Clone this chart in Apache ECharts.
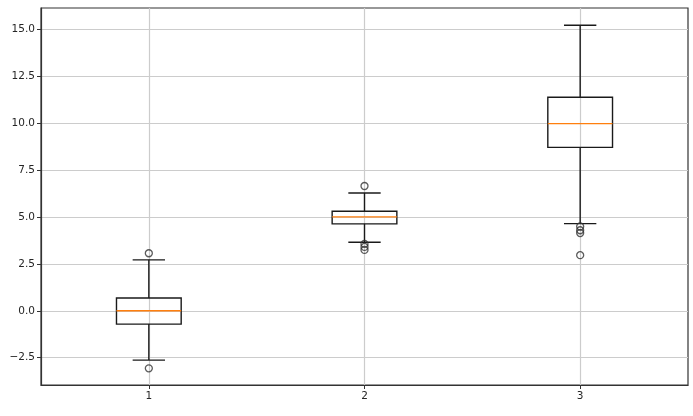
<!DOCTYPE html>
<html>
<head>
<meta charset="utf-8">
<script src="https://cdn.jsdelivr.net/npm/echarts@6/dist/echarts.min.js"></script>
<style>
  html, body { margin: 0; padding: 0; background: #fff; }
  #chart { width: 693px; height: 416px; }
</style>
</head>
<body>
<div id="chart"></div>
<script>
// box statistics per position
const positions = [1, 2, 3]
const whiskerLow = [-2.63, 3.66, 4.65]
const q1 = [-0.71, 4.64, 8.72]
const median = [0.0, 5.01, 9.99]
const q3 = [0.68, 5.31, 11.40]
const whiskerHigh = [2.72, 6.29, 15.24]
const fliers = [
  [3.07, -3.07],
  [6.66, 3.57, 3.41, 3.25],
  [4.50, 4.30, 4.15, 2.97]
]
const xTicks = [1, 2, 3]
const yTicks = [-2.5, 0, 2.5, 5, 7.5, 10, 12.5, 15]

const boxData = positions.map((p, i) => [p, whiskerLow[i], q1[i], median[i], q3[i], whiskerHigh[i]])
const flierData = []
positions.forEach((p, i) => {
  fliers[i].forEach(v => flierData.push([p, v]))
})

const lineColor = '#1a1a1a'
const textColor = '#262626'

function renderBox(params, api) {
  const x = api.value(0)
  const w = api.size([0.3, 0])[0]
  const lo = api.coord([x, api.value(1)])
  const b1 = api.coord([x, api.value(2)])
  const md = api.coord([x, api.value(3)])
  const b3 = api.coord([x, api.value(4)])
  const hi = api.coord([x, api.value(5)])
  const cx = lo[0]
  const st = { stroke: lineColor, lineWidth: 1.4, fill: null }
  const line = (x1, y1, x2, y2, style) => ({
    type: 'line',
    shape: { x1, y1, x2, y2 },
    style: style || st
  })
  return {
    type: 'group',
    children: [
      line(cx, b1[1], cx, lo[1]),
      line(cx, b3[1], cx, hi[1]),
      line(cx - w / 4, lo[1], cx + w / 4, lo[1]),
      line(cx - w / 4, hi[1], cx + w / 4, hi[1]),
      {
        type: 'rect',
        shape: { x: cx - w / 2, y: b3[1], width: w, height: b1[1] - b3[1] },
        style: st
      },
      line(cx - w / 2, md[1], cx + w / 2, md[1], { stroke: '#ff7f0e', lineWidth: 1.4 })
    ]
  }
}

const chart = echarts.init(document.getElementById('chart'))
chart.setOption({
  animation: false,
  backgroundColor: '#fff',
  grid: {
    left: 41, right: 5, top: 8, bottom: 31,
    show: true, borderColor: '#333', borderWidth: 1.2
  },
  xAxis: {
    type: 'value',
    min: 0.5,
    max: 3.5,
    axisLine: { show: true, onZero: false, lineStyle: { color: '#333', width: 1.2 } },
    axisTick: { show: true, length: 4, customValues: xTicks, lineStyle: { color: '#333' } },
    axisLabel: {
      customValues: xTicks,
      color: textColor,
      fontSize: 10.5,
      fontFamily: 'DejaVu Sans',
      margin: 6
    },
    splitLine: { show: true, lineStyle: { color: '#cccccc', width: 1.2 } }
  },
  yAxis: {
    type: 'value',
    min: -3.96,
    max: 16.16,
    axisLine: { show: true, onZero: false, lineStyle: { color: '#333', width: 1.2 } },
    axisTick: { show: true, length: 4, customValues: yTicks, lineStyle: { color: '#333' } },
    axisLabel: {
      customValues: yTicks,
      color: textColor,
      fontSize: 10.5,
      fontFamily: 'DejaVu Sans',
      margin: 6,
      formatter: v => v.toFixed(1).replace('-', '\u2212')
    },
    splitLine: { show: true, lineStyle: { color: '#cccccc', width: 1.2 } }
  },
  series: [
    {
      type: 'custom',
      renderItem: renderBox,
      data: boxData,
      encode: { x: 0, y: [1, 2, 3, 4, 5] },
      clip: false
    },
    {
      type: 'scatter',
      data: flierData,
      symbol: 'circle',
      symbolSize: 7,
      itemStyle: { color: 'rgba(0,0,0,0)', borderColor: '#333', borderWidth: 1.3 }
    }
  ]
})
</script>
</body>
</html>
